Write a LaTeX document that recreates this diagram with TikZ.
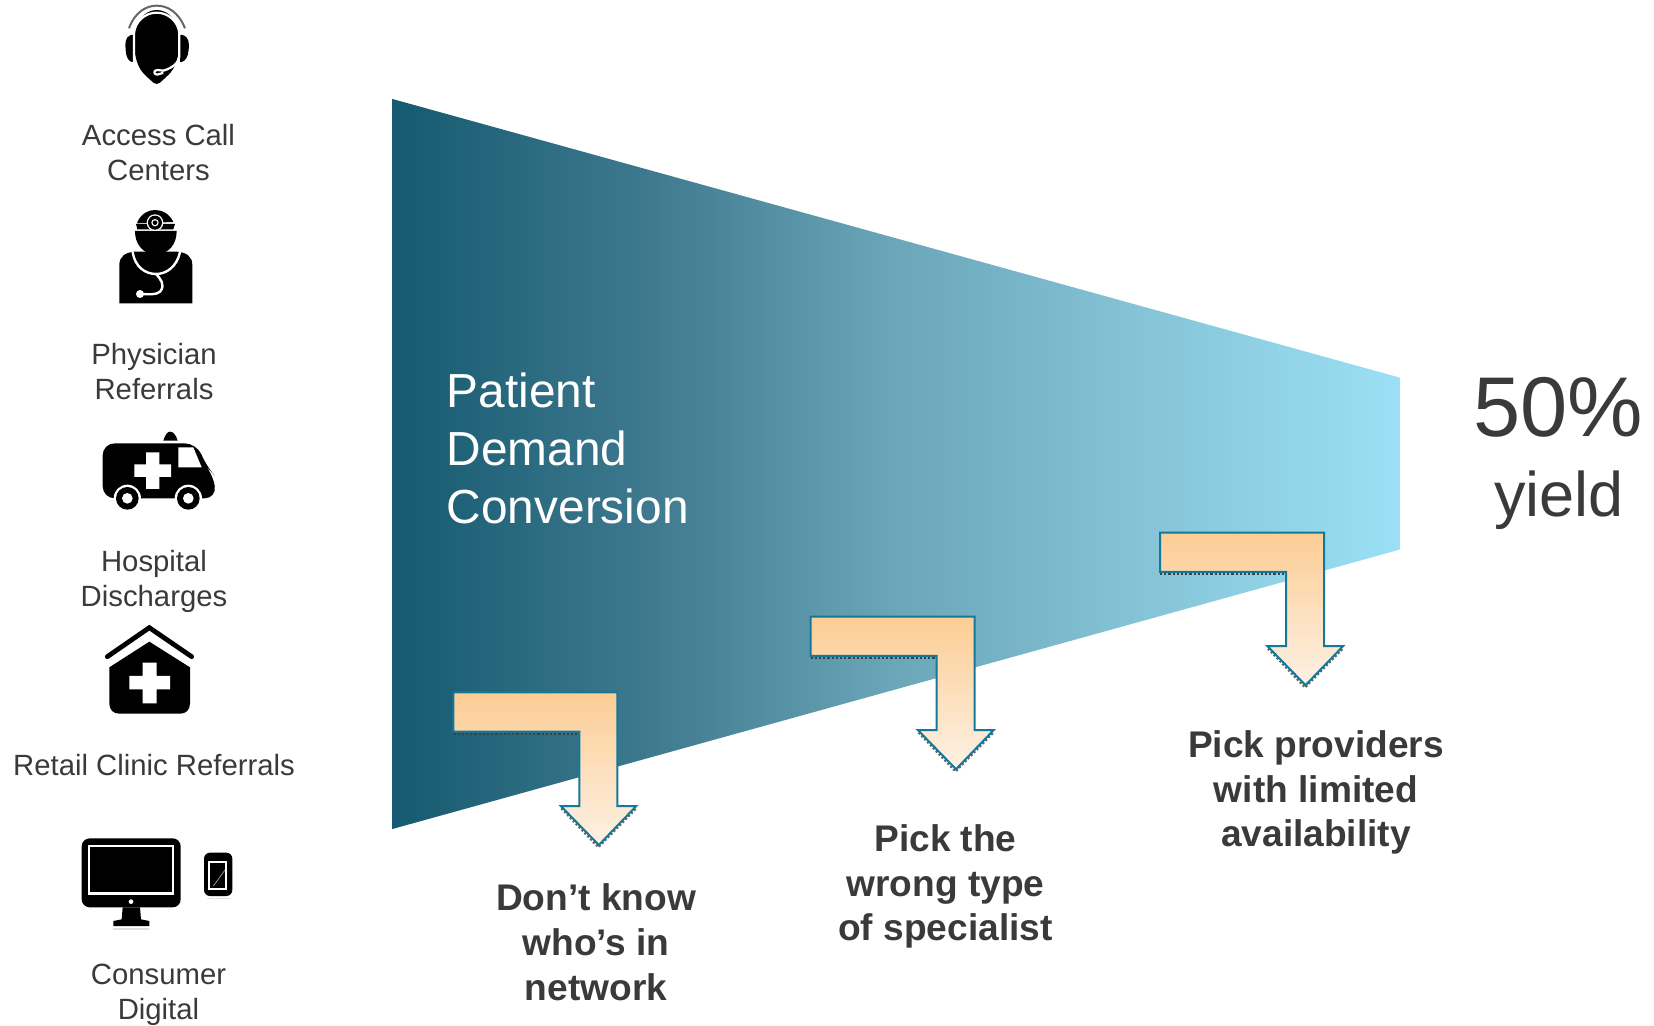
\documentclass[tikz,border=0pt]{standalone}
\usepackage{fontspec}
\setmainfont{Liberation Sans}
\definecolor{txt}{HTML}{3A3A3A}
\definecolor{ed}{HTML}{14789A}
\definecolor{fa}{HTML}{155A70}
\definecolor{fb}{HTML}{3F7A8F}
\definecolor{fc}{HTML}{6BA6B9}
\definecolor{fd}{HTML}{85C3D6}
\definecolor{fe}{HTML}{9BE0F5}
\definecolor{pa}{HTML}{FCCD94}
\definecolor{pb}{HTML}{FDF1E4}
\pgfdeclarehorizontalshading{funnelshade}{100bp}{color(0bp)=(fa); color(25bp)=(fa); color(38bp)=(fb); color(50bp)=(fc); color(62bp)=(fd); color(75bp)=(fe); color(100bp)=(fe)}
\tikzset{
  lab/.style={text=txt,align=center,inner sep=0pt,font=\fontsize{14.65}{17.5}\selectfont},
  head/.style={text=white,align=left,inner sep=0pt,font=\fontsize{23.9}{29}\selectfont},
  why/.style={text=txt,align=center,inner sep=0pt,font=\bfseries\fontsize{18.55}{22.4}\selectfont},
  ink/.style={fill=black,draw=none},
  gap/.style={fill=white,draw=none},
  gapline/.style={draw=white,line cap=round,line join=round},
  benarrow/.pic={
    \draw[draw=black!75,line width=1.1pt,densely dotted] (0,41.5) -- (126,41.5);
    \draw[draw=black!60,line width=1.1pt,densely dotted] (108,116) -- (145,155) -- (183,116);
    \shade[top color=pa,bottom color=pb,draw=ed,line width=1pt,line join=miter]
      (0,0) -- (164,0) -- (164,113.7) -- (183,113.7) -- (145.5,152.7) -- (107.5,113.7) -- (126,113.7) -- (126,39.4) -- (0,39.4) -- cycle;
  }
}
\begin{document}
\begin{tikzpicture}[x=0.5pt,y=-0.5pt]
\useasboundingbox (0,0) rectangle (1654,1026);

% funnel
\shade[shading=funnelshade] (392.4,99) -- (1399.7,377.6) -- (1399.7,549.6) -- (392.4,829) -- cycle;

% arrows
\pic at (453.3,692.3) {benarrow};
\pic at (810.5,616.5) {benarrow};
\pic at (1160,532.5) {benarrow};

% headset
\begin{scope}[shift={(60,0)},scale=1/3]
  \draw[draw=black!60,line width=1pt] (207,85) .. controls (225,35) and (260,17) .. (290,17) .. controls (322,17) and (355,35) .. (375,85);
  \fill[ink] (222,120) .. controls (222,65) and (255,30) .. (290,30) .. controls (327,30) and (358,65) .. (358,120)
     .. controls (358,175) and (345,205) .. (325,225) -- (300,248) .. controls (293,253) and (287,253) .. (280,248) -- (255,225) .. controls (235,205) and (222,175) .. (222,120) -- cycle;
  \fill[ink] (212,105) .. controls (195,112) and (195,130) .. (197,150) .. controls (198,170) and (205,183) .. (215,186) -- (220,186) -- (220,105) -- cycle;
  \fill[ink] (368,105) .. controls (388,112) and (388,130) .. (386,150) .. controls (384,170) and (377,183) .. (365,186) -- (360,186) -- (360,105) -- cycle;
  \draw[gapline,line width=1.1pt] (222,190) -- (222,100) .. controls (225,65) and (255,38) .. (290,38) .. controls (325,38) and (355,65) .. (358,100) -- (358,170) .. controls (355,190) and (335,205) .. (310,212);
  \draw[gapline,line width=1.1pt] (310,212) -- (292,210) .. controls (280,210) and (280,224) .. (292,224) -- (308,219);
\end{scope}

% physician
\begin{scope}[shift={(60,0)},scale=1/3]
  \fill[ink] (232,666) .. controls (245,640) and (265,630) .. (285,630) .. controls (305,630) and (328,640) .. (340,666) -- (232,670) -- cycle;
  \fill[ink] (228,672) -- (345,672) -- (340,688) -- (232,688) -- cycle;
  \fill[ink] (225,693) -- (350,693) .. controls (350,730) and (330,760) .. (287,765) .. controls (245,760) and (225,730) .. (225,693) -- cycle;
  \fill[gap] (285,668) circle (25);
  \fill[ink] (285,668) circle (21);
  \fill[gap] (285,668) circle (11);
  \fill[ink] (285,668) circle (7);
  \fill[ink] (178,910) -- (178,795) .. controls (178,770) and (195,757) .. (225,755) -- (350,755) .. controls (380,757) and (397,770) .. (397,795) -- (397,910) -- cycle;
  \draw[gapline,line width=1.2pt] (218,757) .. controls (225,800) and (255,822) .. (288,822) .. controls (320,822) and (350,800) .. (360,757);
  \draw[gapline,line width=1.2pt] (288,822) .. controls (300,835) and (318,855) .. (300,875) .. controls (290,885) and (265,883) .. (245,882);
  \fill[gap] (240,882) circle (12);
\end{scope}

% ambulance
\begin{scope}[shift={(60,420)},scale=1/3]
  \fill[ink] (310,62) .. controls (315,45) and (322,35) .. (330,35) .. controls (340,35) and (348,45) .. (353,62) -- cycle;
  \fill[ink,rounded corners=6pt] (128,70) -- (410,70) -- (440,140) -- (458,160) -- (470,235) -- (128,235) -- cycle;
  \fill[gap] (355,82) -- (400,82) -- (425,142) -- (355,142) -- cycle;
  \fill[gap] (258,97) -- (298,97) -- (298,133) -- (333,133) -- (333,171) -- (298,171) -- (298,207) -- (258,207) -- (258,171) -- (223,171) -- (223,133) -- (258,133) -- cycle;
  \foreach \wx in {202,385} {
    \fill[gap] (\wx,235) circle (41);
    \fill[ink] (\wx,235) circle (34);
    \fill[gap] (\wx,235) circle (16);
  }
\end{scope}

% clinic
\begin{scope}[shift={(60,420)},scale=1/3]
  \draw[draw=black,line width=2.4pt,line cap=round,line join=miter] (142,710) -- (268,623) -- (395,710);
  \fill[ink] (148,742) -- (268,665) -- (390,742) -- (390,850) .. controls (390,870) and (378,881) .. (360,881) -- (178,881) .. controls (160,881) and (148,870) .. (148,850) -- cycle;
  \fill[gap] (248,728) -- (290,728) -- (290,768) -- (330,768) -- (330,808) -- (290,808) -- (290,850) -- (248,850) -- (248,808) -- (208,808) -- (208,768) -- (248,768) -- cycle;
\end{scope}

% devices
\begin{scope}[shift={(60,820)},scale=1/3]
  \fill[ink,rounded corners=4pt] (65,55) rectangle (362,262);
  \fill[gap] (84,74) rectangle (343,226);
  \fill[ink] (91,81) rectangle (336,217);
  \fill[gap] (213,245) circle (7);
  \fill[ink] (188,262) -- (240,262) -- (243,298) -- (268,303) -- (268,318) -- (160,318) -- (160,303) -- (185,298) -- cycle;
  \fill[black!12] (160,325) rectangle (268,331);
  \fill[ink,rounded corners=3pt] (432,98) rectangle (517,228);
  \fill[gap] (445,122) rectangle (502,210);
  \fill[ink] (451,129) rectangle (496,204);
  \draw[draw=white!70!black,line width=0.3pt] (460,198) -- (495,150);
  \fill[black!12] (440,234) rectangle (510,238);
\end{scope}

% labels
\node[lab] (access) at (158.5,152.4) {Access Call\\Centers};
\node[lab] (phys) at (154,371.8) {Physician\\Referrals};
\node[lab] (hosp) at (154,581.8) {Hospital\\Discharges};
\node[lab] (retail) at (154,765) {Retail Clinic Referrals};
\node[lab] (cons) at (158.5,995.2) {Consumer\\Digital};
\node[head,anchor=west] (pdc) at (446.5,448) {Patient\\Demand\\Conversion};
\node[text=txt,inner sep=0pt,font=\fontsize{42.4}{48}\selectfont] (pct) at (1558,407) {50\%};
\node[text=txt,inner sep=0pt,font=\fontsize{31.5}{36}\selectfont] (yield) at (1559,500) {yield};
\node[why] (w1) at (596,942) {Don’t know\\who’s in\\network};
\node[why] (w2) at (945.5,886.5) {Pick the\\wrong type\\of specialist};
\node[why] (w3) at (1316,792.5) {Pick providers\\with limited\\availability};
\end{tikzpicture}
\end{document}
